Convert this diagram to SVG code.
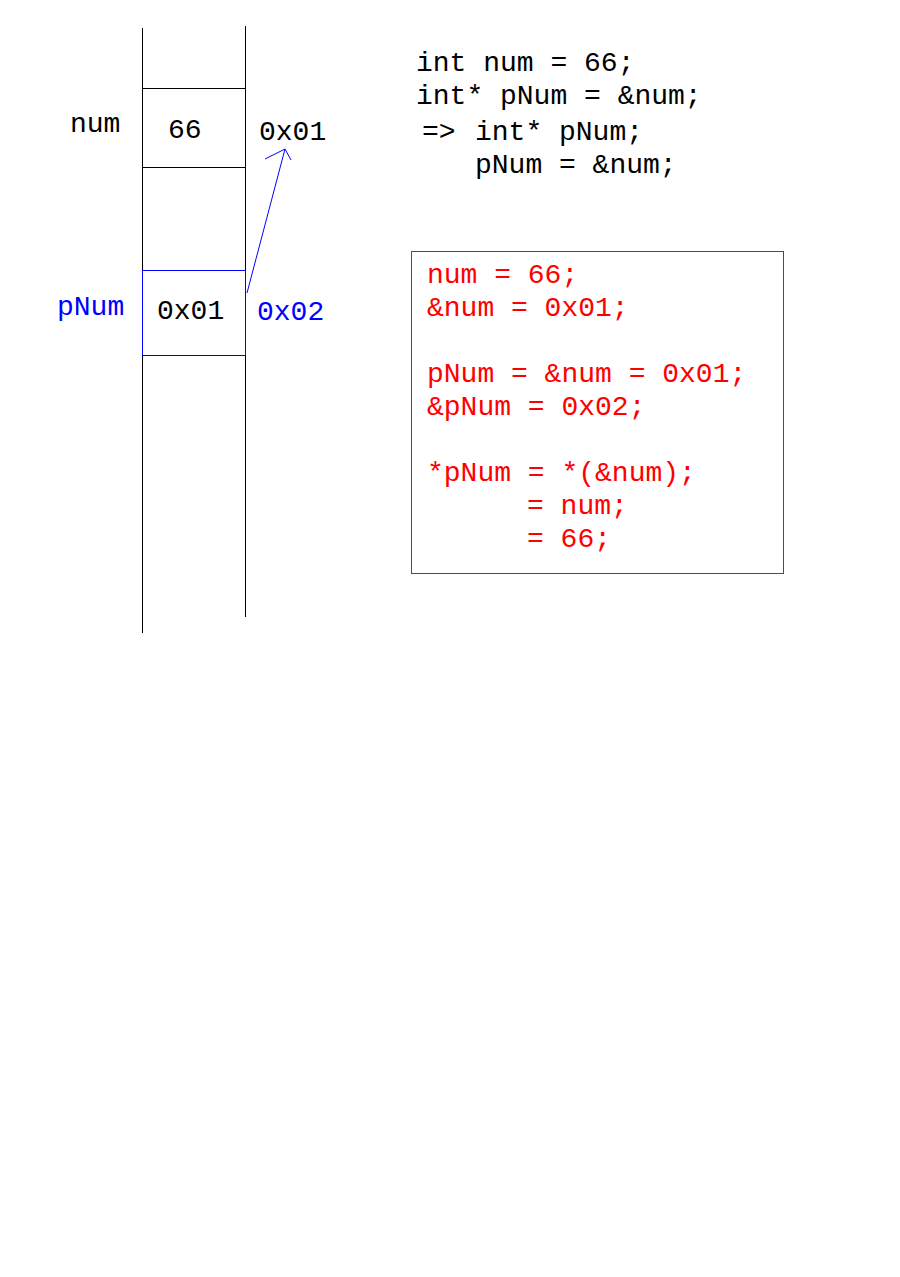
<svg xmlns="http://www.w3.org/2000/svg" width="900" height="1277" viewBox="0 0 900 1277">
<style>
text{font-family:"Liberation Mono","DejaVu Sans Mono",monospace;font-size:28px;white-space:pre}
.k{fill:#000}
.b{fill:#0000ff}
.r{fill:#ff0000}
.ln{stroke:#000;stroke-width:1;fill:none}
</style>
<rect width="900" height="1277" fill="#fff"/>
<g id="memory">
<line class="ln" x1="142.5" y1="28" x2="142.5" y2="633"/>
<line class="ln" x1="245.5" y1="26" x2="245.5" y2="617"/>
<line class="ln" x1="142" y1="88.5" x2="245" y2="88.5"/>
<line class="ln" x1="142" y1="167.5" x2="245" y2="167.5"/>
</g>
<g id="num-cell">
<text class="k" x="70" y="132">num</text>
<text class="k" x="168" y="138">66</text>
<text class="k" x="259" y="140">0x01</text>
</g>
<g id="pNum-cell">
<rect x="142.5" y="270.5" width="103" height="85" fill="none" stroke="#0000ff" stroke-width="1"/>
<text class="b" x="57" y="315">pNum</text>
<text class="k" x="157" y="319">0x01</text>
<text class="b" x="257" y="320">0x02</text>
</g>
<g id="connectors">
<line x1="247" y1="293" x2="285" y2="149" stroke="#0000ff" stroke-width="1"/>
<polyline points="265,159 285,149 291,160" fill="none" stroke="#0000ff" stroke-width="1"/>
</g>
<g id="code">
<text class="k" x="416" y="71">int num = 66;</text>
<text class="k" x="416" y="104">int* pNum = &amp;num;</text>
<text class="k" x="422" y="140">=&gt;</text>
<text class="k" x="475" y="140">int* pNum;</text>
<text class="k" x="475" y="173">pNum = &amp;num;</text>
</g>
<g id="explain">
<rect x="411.5" y="251.5" width="372" height="322" fill="none" stroke="#ff0000" stroke-width="1"/>
<text class="r" x="427" y="283">num = 66;</text>
<text class="r" x="427" y="316">&amp;num = 0x01;</text>
<text class="r" x="427" y="382">pNum = &amp;num = 0x01;</text>
<text class="r" x="427" y="415">&amp;pNum = 0x02;</text>
<text class="r" x="427" y="481">*pNum = *(&amp;num);</text>
<text class="r" x="527" y="514">= num;</text>
<text class="r" x="527" y="547">= 66;</text>
</g>
</svg>
